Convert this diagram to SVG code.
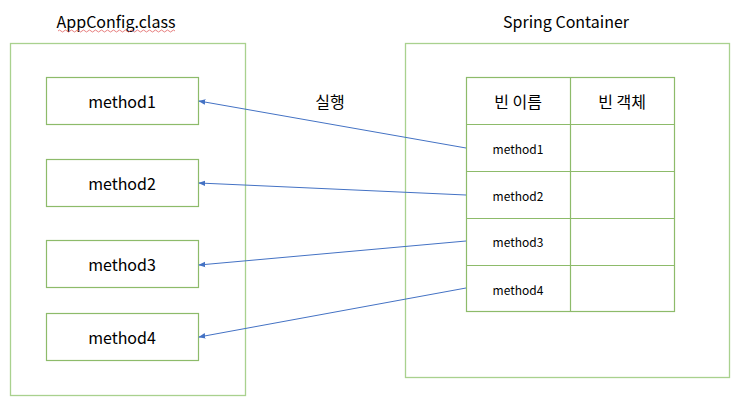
<svg xmlns="http://www.w3.org/2000/svg" width="750" height="400" viewBox="0 0 750 400">
<defs>
<style>
.outer{fill:#fff;stroke:#a9d18e;stroke-width:1.3}
.box{fill:#fff;stroke:#8dbb6a;stroke-width:1.2}
.t{font-family:"Noto Sans CJK KR","Noto Sans",sans-serif;fill:#000;text-anchor:middle;dominant-baseline:central}
.m{font-size:16px}
.s{font-size:12px}
.h{font-size:16px}
.conn{stroke:#4472c4;stroke-width:1;fill:none;marker-end:url(#ah)}
</style>
<marker id="ah" viewBox="0 0 10 10" refX="9" refY="5" markerWidth="7" markerHeight="7" orient="auto" markerUnits="userSpaceOnUse">
<path d="M0,1 L10,5 L0,9 z" fill="#4472c4"/>
</marker>
</defs>
<rect width="750" height="400" fill="#fff"/>
<g id="appconfig">
<rect class="outer" x="10.5" y="43.5" width="235" height="352"/>
<text class="t h" x="116" y="21">AppConfig.class</text>
<path d="M58,31 q1.5,-2 3,0 t3,0 t3,0 t3,0 t3,0 t3,0 t3,0 t3,0 t3,0 t3,0 t3,0 t3,0 t3,0 t3,0 t3,0 t3,0 t3,0 t3,0 t3,0 t3,0 t3,0 t3,0 t3,0 t3,0 t3,0 t3,0 t3,0 t3,0 t3,0 t3,0 t3,0 t3,0 t3,0 t3,0 t3,0 t3,0 t3,0 t3,0 t3,0" fill="none" stroke="#e06060" stroke-width="0.8"/>
</g>
<g id="m1"><rect class="box" x="46.5" y="77.5" width="152" height="47"/><text class="t m" x="122" y="101">method1</text></g>
<g id="m2"><rect class="box" x="46.5" y="159.5" width="152" height="47"/><text class="t m" x="122" y="183">method2</text></g>
<g id="m3"><rect class="box" x="46.5" y="240.5" width="152" height="47"/><text class="t m" x="122" y="264">method3</text></g>
<g id="m4"><rect class="box" x="46.5" y="313.5" width="152" height="47"/><text class="t m" x="122" y="337">method4</text></g>
<g id="container">
<rect class="outer" x="405.5" y="43.5" width="324" height="334"/>
<text class="t h" x="566" y="21">Spring Container</text>
</g>
<g id="table">
<rect class="box" x="466.5" y="77.5" width="208" height="234"/>
<line class="box" x1="570.5" y1="77" x2="570.5" y2="312"/>
<line class="box" x1="466" y1="124.5" x2="675" y2="124.5"/>
<line class="box" x1="466" y1="171.5" x2="675" y2="171.5"/>
<line class="box" x1="466" y1="218.5" x2="675" y2="218.5"/>
<line class="box" x1="466" y1="265.5" x2="675" y2="265.5"/>
<text class="t h" x="518" y="101">빈 이름</text>
<text class="t h" x="622" y="101">빈 객체</text>
<text class="t s" x="518" y="148">method1</text>
<text class="t s" x="518" y="195">method2</text>
<text class="t s" x="518" y="241">method3</text>
<text class="t s" x="518" y="289">method4</text>
</g>
<g id="connectors">
<line class="conn" x1="466" y1="148" x2="199" y2="101"/>
<line class="conn" x1="466" y1="195" x2="199" y2="183"/>
<line class="conn" x1="466" y1="241" x2="199" y2="265"/>
<line class="conn" x1="466" y1="288" x2="199" y2="337"/>
<text class="t h" x="330" y="101">실행</text>
</g>
</svg>
